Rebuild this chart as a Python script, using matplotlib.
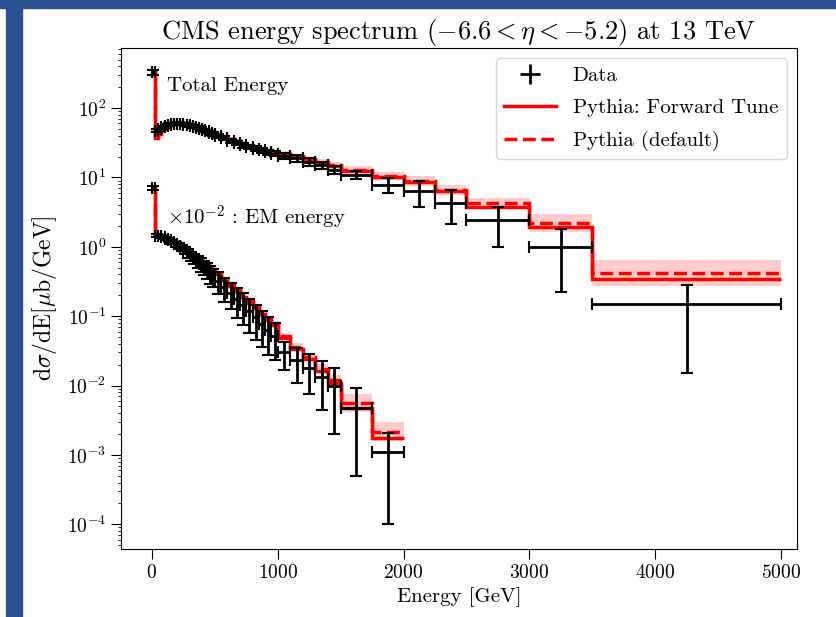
import numpy as np
import matplotlib.pyplot as plt
from matplotlib.patches import Rectangle
from matplotlib.ticker import LogLocator, NullFormatter, FixedLocator

plt.rcParams['font.family'] = 'serif'
plt.rcParams['font.serif'] = ['cmr10']
plt.rcParams['mathtext.fontset'] = 'cm'
plt.rcParams['axes.formatter.use_mathtext'] = True

# Bin edges [GeV]
edges_tot = [0, 25, 50, 75, 100, 125, 150, 175, 200, 225, 250, 275, 300, 325, 350, 375, 400,
             425, 450, 475, 500, 550, 600, 650, 700, 750, 800, 850, 900, 950, 1000,
             1100, 1200, 1300, 1400, 1500, 1750, 2000, 2250, 2500, 3000, 3500, 5000]
edges_em = edges_tot[:36] + [1750, 2000]

# Total energy
tot_data = [330, 47, 50, 53, 55.5, 57.5, 59, 59.5, 59.5, 59, 58, 57, 55.5, 54, 52, 50, 48, 46, 44, 42,
            40, 37, 34, 31.5, 29, 27.5, 26, 24.5, 23.2, 22,
            20.5, 19, 16.8, 15, 13,
            11, 7.9, 6.3, 4.35,
            2.4, 1.0, 0.15]
tot_err = [30, 2.5, 2.5, 2.5, 2.6, 2.7, 2.8, 2.8, 2.8, 2.8, 2.8, 2.8, 2.8, 2.8, 2.7, 2.7, 2.6, 2.6, 2.5, 2.5,
           2.5, 2.4, 2.3, 2.2, 2.1, 2.0, 2.0, 1.9, 1.9, 1.8,
           2.0, 2.1, 2.0, 1.9, 1.8,
           1.5, 2.0, 2.5, 2.2,
           1.4, 0.78, 0.135]
tot_fwd = [330, 37, 44, 50, 54, 57, 59, 60, 60.5, 60, 59.5, 58.5, 57, 55.5, 54, 52, 50, 48, 46, 44,
           41.5, 38.5, 35.5, 33, 30.5, 28.5, 27, 25.5, 24, 23,
           21.5, 19.8, 17.8, 16, 14.5,
           12.5, 10, 8.5, 6.3,
           3.8, 1.9, 0.345]
tot_def = [330, 36, 43, 49.5, 54, 57.5, 59.5, 60.5, 61, 60.5, 60, 59, 57.5, 56, 54.5, 52.5, 50.5, 48.5, 46.5, 44.5,
           42, 39, 36, 33.5, 31, 29, 27.5, 26, 24.5, 23.5,
           22, 20.3, 18.3, 16.5, 15,
           12.9, 10.4, 8.9, 6.7,
           4.35, 2.2, 0.42]
tot_band = [1.03] * 20 + [1.05] * 10 + [1.08, 1.08, 1.09, 1.1, 1.1] + [1.12, 1.14, 1.18, 1.18] + [1.18, 1.33, 1.54]

# EM energy (x 1e-2)
em_data = [7.1, 1.45, 1.42, 1.37, 1.31, 1.25, 1.18, 1.10, 1.03, 0.96, 0.88, 0.81, 0.74, 0.68, 0.62, 0.56, 0.51, 0.46, 0.41, 0.37,
           0.32, 0.26, 0.215, 0.175, 0.145, 0.118, 0.096, 0.078, 0.063, 0.051,
           0.030, 0.023, 0.018, 0.0135, 0.010,
           0.0048, 0.0011]
em_err = [0.5, 0.06, 0.06, 0.06, 0.07, 0.07, 0.08, 0.09, 0.09, 0.1, 0.1, 0.11, 0.11, 0.11, 0.12, 0.12, 0.12, 0.12, 0.12, 0.11,
          0.11, 0.1, 0.09, 0.08, 0.07, 0.06, 0.05, 0.042, 0.035, 0.028,
          0.013, 0.012, 0.0105, 0.009, 0.008,
          0.0043, 0.001]
em_fwd = [7.0, 1.48, 1.45, 1.41, 1.36, 1.30, 1.24, 1.17, 1.10, 1.03, 0.96, 0.89, 0.82, 0.76, 0.70, 0.64, 0.59, 0.54, 0.49, 0.45,
          0.40, 0.33, 0.275, 0.228, 0.19, 0.157, 0.13, 0.108, 0.089, 0.074,
          0.048, 0.034, 0.024, 0.0162, 0.011,
          0.0047, 0.00176]
em_def = [7.0, 1.50, 1.47, 1.43, 1.38, 1.32, 1.26, 1.19, 1.12, 1.05, 0.98, 0.91, 0.84, 0.78, 0.72, 0.66, 0.61, 0.56, 0.51, 0.47,
          0.415, 0.345, 0.288, 0.24, 0.2, 0.166, 0.138, 0.115, 0.095, 0.079,
          0.051, 0.036, 0.026, 0.0175, 0.0122,
          0.0056, 0.00215]
em_band = [1.04] * 20 + [1.06] * 10 + [1.12, 1.13, 1.15, 1.17, 1.18] + [1.33, 1.37]

fig = plt.figure(figsize=(8.36, 6.17), dpi=100)
ax = fig.add_axes([0.1447, 0.1102, 0.8086, 0.812])

# blue slide frame
fig.patches.append(Rectangle((0, 1 - 8 / 617), 1, 8 / 617, transform=fig.transFigure,
                             color='#2c5293', zorder=0))
fig.patches.append(Rectangle((6 / 836, 0), 16 / 836, 1, transform=fig.transFigure,
                             color='#2c5293', zorder=0))

for edges, data, err, fwd, dflt, band in [
        (edges_tot, tot_data, tot_err, tot_fwd, tot_def, tot_band),
        (edges_em, em_data, em_err, em_fwd, em_def, em_band)]:
    e = np.array(edges, dtype=float)
    d = np.array(dflt)
    b = np.array(band)
    ax.stairs(d * b, e, baseline=d / b, fill=True, color='red', alpha=0.2, lw=0)
    ax.stairs(fwd, e, baseline=None, color='red', lw=2.5)
    ax.stairs(dflt, e, baseline=None, color='red', lw=2.5, ls='--')
    ctr = (e[1:] + e[:-1]) / 2
    hw = (e[1:] - e[:-1]) / 2
    ax.errorbar(ctr, data, yerr=err, xerr=hw, fmt='none', ecolor='k', elinewidth=2,
                capsize=4, capthick=1.5, zorder=5)

# legend handles
h_data = ax.errorbar([], [], yerr=[], xerr=[], fmt='none', ecolor='k', elinewidth=2, capsize=4, capthick=1.5)
h_fwd, = ax.plot([], [], color='red', lw=2.5)
h_def, = ax.plot([], [], color='red', lw=2.5, ls='--')
ax.legend([h_data, h_fwd, h_def], ['Data', 'Pythia: Forward Tune', 'Pythia (default)'],
          loc='upper right', fontsize=15, handlelength=2.5, labelspacing=0.65)

ax.text(120, 208, 'Total Energy', fontsize=15, va='center')
ax.text(120, 2.62, r'$\times10^{-2}$ : EM energy', fontsize=15, va='center')

ax.set_yscale('log')
ax.set_xlim(-246, 5127)
ax.set_ylim(4.4e-5, 735)
ax.xaxis.set_major_locator(FixedLocator([0, 1000, 2000, 3000, 4000, 5000]))
ax.yaxis.set_major_locator(LogLocator(base=10, numticks=20))
ax.yaxis.set_minor_locator(LogLocator(base=10, subs=np.arange(2, 10), numticks=100))
ax.yaxis.set_minor_formatter(NullFormatter())
ax.tick_params(labelsize=14)
ax.tick_params(which='major', length=7)

ax.set_xlabel('Energy [GeV]', fontsize=15)
ax.set_ylabel(r'd$\sigma$/dE[$\mu$b/GeV]', fontsize=17, labelpad=6)
ax.set_title(r'CMS energy spectrum $(-6.6 < \eta < -5.2)$ at 13 TeV', fontsize=19)

fig.savefig('out.png', dpi=100)
